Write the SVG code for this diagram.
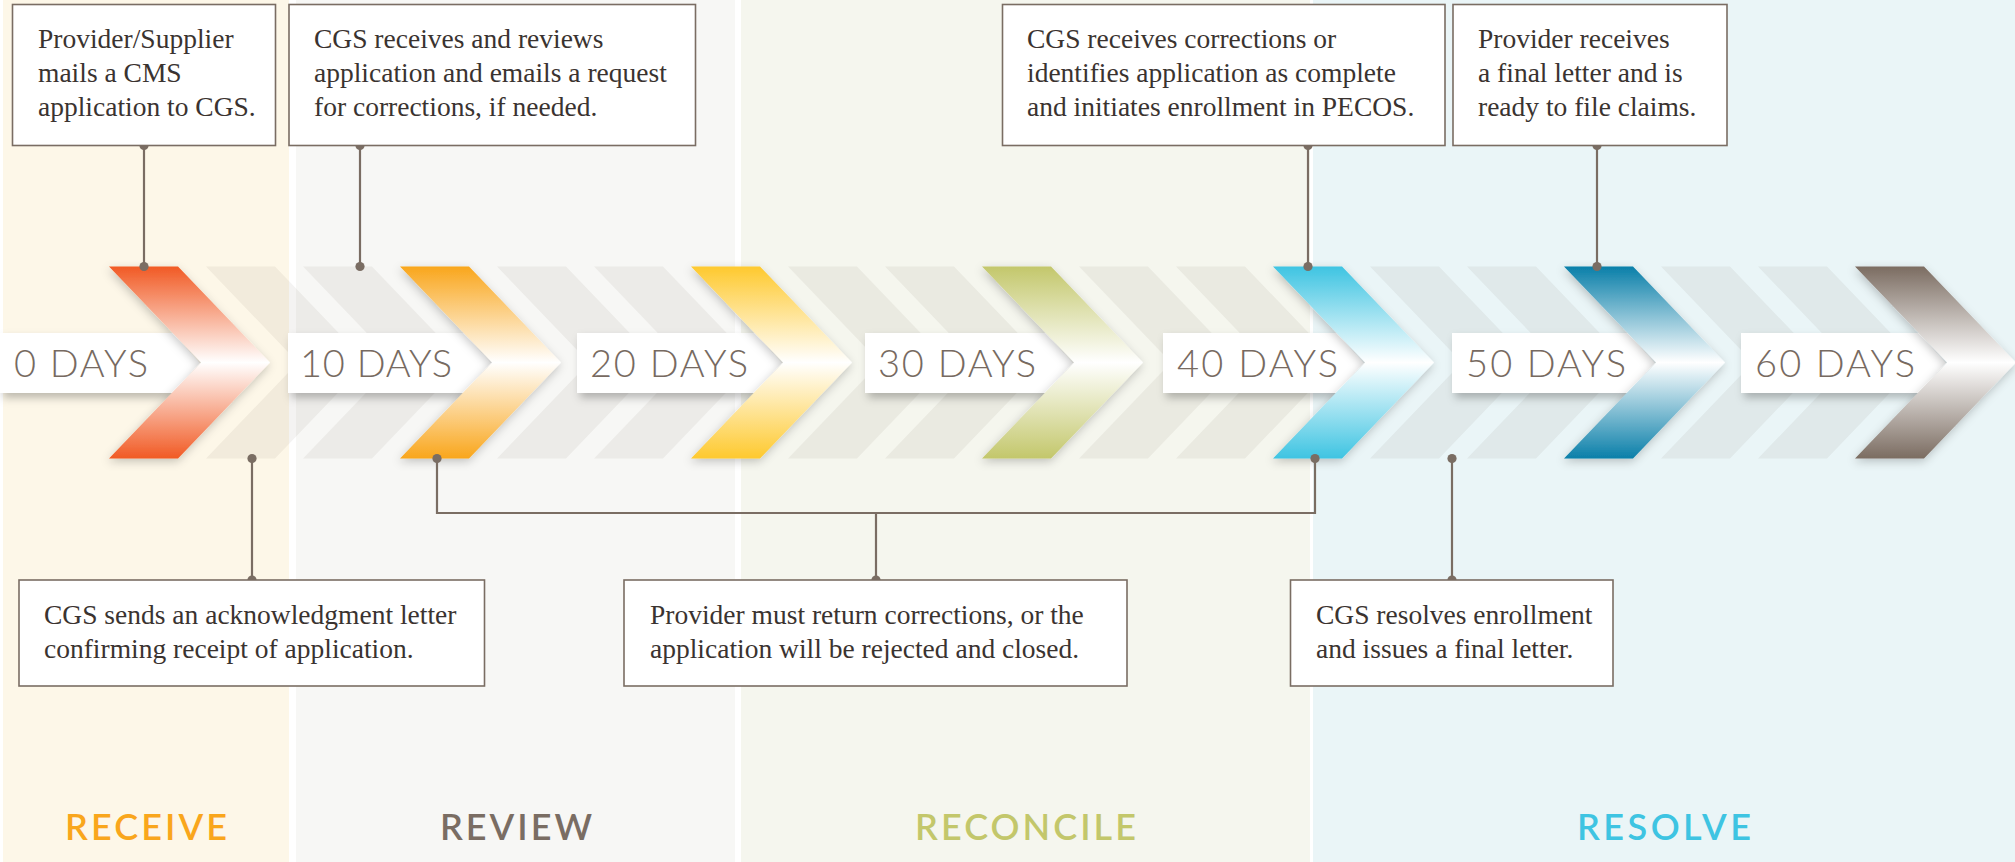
<svg xmlns="http://www.w3.org/2000/svg" xmlns:xlink="http://www.w3.org/1999/xlink" width="2015" height="862" viewBox="0 0 2015 862">
<style>
.ghost{fill:#3a2a10;fill-opacity:.055}
.lbl{fill:#fff;filter:url(#lsh)}
.days{font-family:Lato,"Open Sans","Liberation Sans",sans-serif;font-weight:300;font-size:38px;fill:#776a61}
.box{fill:#fff;stroke:#7a6d63;stroke-width:1.6}
.txt{font-family:"Liberation Serif","Times New Roman",serif;font-size:27.5px;fill:#3a3330}
.ln{stroke:#7a6d63;stroke-width:2.2;fill:none}
.dot{fill:#7a6d63}
.phase{font-family:Lato,"Open Sans","Liberation Sans",sans-serif;font-weight:600;font-size:36px;text-anchor:middle}
.chev{filter:url(#csh)}
</style>
<defs>
<path id="chev" d="M0,266.5 L69,266.5 L161,362.5 L69,458.5 L0,458.5 L92,362.5 Z"/>
<filter id="csh" x="-30%" y="-20%" width="160%" height="140%">
<feDropShadow dx="-1" dy="3" stdDeviation="5" flood-color="#000" flood-opacity="0.22"/>
</filter>
<filter id="lsh" x="-10%" y="-30%" width="120%" height="170%">
<feDropShadow dx="3" dy="5" stdDeviation="4" flood-color="#000" flood-opacity="0.25"/>
</filter>
<linearGradient id="gRed" x1="0" y1="0" x2="0" y2="1"><stop offset="0" stop-color="#f15a24"/><stop offset="0.5" stop-color="#fff"/><stop offset="1" stop-color="#f15a24"/></linearGradient>
<linearGradient id="gOrange" x1="0" y1="0" x2="0" y2="1"><stop offset="0" stop-color="#f9a61c"/><stop offset="0.5" stop-color="#fff"/><stop offset="1" stop-color="#f9a61c"/></linearGradient>
<linearGradient id="gYellow" x1="0" y1="0" x2="0" y2="1"><stop offset="0" stop-color="#fec92e"/><stop offset="0.5" stop-color="#fff"/><stop offset="1" stop-color="#fec92e"/></linearGradient>
<linearGradient id="gGreen" x1="0" y1="0" x2="0" y2="1"><stop offset="0" stop-color="#c3c76b"/><stop offset="0.5" stop-color="#fff"/><stop offset="1" stop-color="#c3c76b"/></linearGradient>
<linearGradient id="gBlue" x1="0" y1="0" x2="0" y2="1"><stop offset="0" stop-color="#3ec4e2"/><stop offset="0.5" stop-color="#fff"/><stop offset="1" stop-color="#3ec4e2"/></linearGradient>
<linearGradient id="gDark" x1="0" y1="0" x2="0" y2="1"><stop offset="0" stop-color="#0a7fa9"/><stop offset="0.5" stop-color="#fff"/><stop offset="1" stop-color="#0a7fa9"/></linearGradient>
<linearGradient id="gBrown" x1="0" y1="0" x2="0" y2="1"><stop offset="0" stop-color="#7b6c61"/><stop offset="0.5" stop-color="#fff"/><stop offset="1" stop-color="#7b6c61"/></linearGradient>
</defs>

<rect x="0" y="0" width="2015" height="862" fill="#fff"/>
<g id="bands">
<rect x="3" y="0" width="286" height="862" fill="#fdf7e8"/>
<rect x="296" y="0" width="439" height="862" fill="#f7f7f5"/>
<rect x="741" y="0" width="569" height="862" fill="#f5f6ee"/>
<rect x="1313" y="0" width="702" height="862" fill="#eaf5f7"/>
</g>

<g id="ghost-chevrons">
<use xlink:href="#chev" href="#chev" class="ghost" x="206"/>
<use xlink:href="#chev" href="#chev" class="ghost" x="303"/>
<use xlink:href="#chev" href="#chev" class="ghost" x="497"/>
<use xlink:href="#chev" href="#chev" class="ghost" x="594"/>
<use xlink:href="#chev" href="#chev" class="ghost" x="788"/>
<use xlink:href="#chev" href="#chev" class="ghost" x="885"/>
<use xlink:href="#chev" href="#chev" class="ghost" x="1079"/>
<use xlink:href="#chev" href="#chev" class="ghost" x="1176"/>
<use xlink:href="#chev" href="#chev" class="ghost" x="1370"/>
<use xlink:href="#chev" href="#chev" class="ghost" x="1467"/>
<use xlink:href="#chev" href="#chev" class="ghost" x="1661"/>
<use xlink:href="#chev" href="#chev" class="ghost" x="1758"/>
</g>

<g id="day-0"><path class="lbl" d="M0,333 H173 L200,363 L173,393 H0 Z"/><text class="days" x="14" y="377" textLength="134" lengthAdjust="spacing">0 DAYS</text></g>
<g id="day-10"><path class="lbl" d="M288,333 H464 L491,363 L464,393 H288 Z"/><text class="days" x="300" y="377" textLength="152" lengthAdjust="spacing">10 DAYS</text></g>
<g id="day-20"><path class="lbl" d="M577,333 H755 L782,363 L755,393 H577 Z"/><text class="days" x="590" y="377" textLength="158" lengthAdjust="spacing">20 DAYS</text></g>
<g id="day-30"><path class="lbl" d="M865,333 H1046 L1073,363 L1046,393 H865 Z"/><text class="days" x="878" y="377" textLength="158" lengthAdjust="spacing">30 DAYS</text></g>
<g id="day-40"><path class="lbl" d="M1163,333 H1337 L1364,363 L1337,393 H1163 Z"/><text class="days" x="1177" y="377" textLength="161" lengthAdjust="spacing">40 DAYS</text></g>
<g id="day-50"><path class="lbl" d="M1452,333 H1628 L1655,363 L1628,393 H1452 Z"/><text class="days" x="1466" y="377" textLength="160" lengthAdjust="spacing">50 DAYS</text></g>
<g id="day-60"><path class="lbl" d="M1741,333 H1919 L1946,363 L1919,393 H1741 Z"/><text class="days" x="1755" y="377" textLength="160" lengthAdjust="spacing">60 DAYS</text></g>

<g id="chevrons">
<g id="chev-receive" class="chev"><path transform="translate(109,0)" d="M0,266.5 L69,266.5 L161,362.5 L69,458.5 L0,458.5 L92,362.5 Z" fill="url(#gRed)"/></g>
<g id="chev-review" class="chev"><path transform="translate(400,0)" d="M0,266.5 L69,266.5 L161,362.5 L69,458.5 L0,458.5 L92,362.5 Z" fill="url(#gOrange)"/></g>
<g id="chev-20" class="chev"><path transform="translate(691,0)" d="M0,266.5 L69,266.5 L161,362.5 L69,458.5 L0,458.5 L92,362.5 Z" fill="url(#gYellow)"/></g>
<g id="chev-30" class="chev"><path transform="translate(982,0)" d="M0,266.5 L69,266.5 L161,362.5 L69,458.5 L0,458.5 L92,362.5 Z" fill="url(#gGreen)"/></g>
<g id="chev-40" class="chev"><path transform="translate(1273,0)" d="M0,266.5 L69,266.5 L161,362.5 L69,458.5 L0,458.5 L92,362.5 Z" fill="url(#gBlue)"/></g>
<g id="chev-50" class="chev"><path transform="translate(1564,0)" d="M0,266.5 L69,266.5 L161,362.5 L69,458.5 L0,458.5 L92,362.5 Z" fill="url(#gDark)"/></g>
<g id="chev-60" class="chev"><path transform="translate(1855,0)" d="M0,266.5 L69,266.5 L161,362.5 L69,458.5 L0,458.5 L92,362.5 Z" fill="url(#gBrown)"/></g>
</g>

<g id="connectors">
<line class="ln" x1="144" y1="145.5" x2="144" y2="266.5"/>
<line class="ln" x1="360" y1="145.5" x2="360" y2="266.5"/>
<line class="ln" x1="1308" y1="145.5" x2="1308" y2="266.5"/>
<line class="ln" x1="1597" y1="145.5" x2="1597" y2="266.5"/>
<line class="ln" x1="252" y1="458.5" x2="252" y2="580"/>
<path class="ln" d="M437,458.5 V513 H1315 V458.5 M876,513 V580"/>
<line class="ln" x1="1452" y1="458.5" x2="1452" y2="580"/>
<circle class="dot" cx="144" cy="145.5" r="4.6"/><circle class="dot" cx="144" cy="266.5" r="4.6"/>
<circle class="dot" cx="360" cy="145.5" r="4.6"/><circle class="dot" cx="360" cy="266.5" r="4.6"/>
<circle class="dot" cx="1308" cy="145.5" r="4.6"/><circle class="dot" cx="1308" cy="266.5" r="4.6"/>
<circle class="dot" cx="1597" cy="145.5" r="4.6"/><circle class="dot" cx="1597" cy="266.5" r="4.6"/>
<circle class="dot" cx="252" cy="458.5" r="4.6"/><circle class="dot" cx="252" cy="580" r="4.6"/>
<circle class="dot" cx="437" cy="458.5" r="4.6"/><circle class="dot" cx="1315" cy="458.5" r="4.6"/><circle class="dot" cx="876" cy="580" r="4.6"/>
<circle class="dot" cx="1452" cy="458.5" r="4.6"/><circle class="dot" cx="1452" cy="580" r="4.6"/>
</g>

<g id="note-mail">
<rect class="box" x="12.5" y="4.5" width="263" height="141"/>
<text class="txt" x="38" y="48">Provider/Supplier</text>
<text class="txt" x="38" y="82">mails a CMS</text>
<text class="txt" x="38" y="116">application to CGS.</text>
</g>
<g id="note-review">
<rect class="box" x="289" y="4.5" width="406.5" height="141"/>
<text class="txt" x="314" y="48">CGS receives and reviews</text>
<text class="txt" x="314" y="82">application and emails a request</text>
<text class="txt" x="314" y="116">for corrections, if needed.</text>
</g>
<g id="note-pecos">
<rect class="box" x="1002.5" y="4.5" width="442.5" height="141"/>
<text class="txt" x="1027" y="48">CGS receives corrections or</text>
<text class="txt" x="1027" y="82">identifies application as complete</text>
<text class="txt" x="1027" y="116">and initiates enrollment in PECOS.</text>
</g>
<g id="note-final">
<rect class="box" x="1453" y="4.5" width="274" height="141"/>
<text class="txt" x="1478" y="48">Provider receives</text>
<text class="txt" x="1478" y="82">a final letter and is</text>
<text class="txt" x="1478" y="116">ready to file claims.</text>
</g>
<g id="note-ack">
<rect class="box" x="19" y="580" width="465.5" height="106"/>
<text class="txt" x="44" y="624">CGS sends an acknowledgment letter</text>
<text class="txt" x="44" y="658">confirming receipt of application.</text>
</g>
<g id="note-return">
<rect class="box" x="624" y="580" width="503" height="106"/>
<text class="txt" x="650" y="624">Provider must return corrections, or the</text>
<text class="txt" x="650" y="658">application will be rejected and closed.</text>
</g>
<g id="note-resolve">
<rect class="box" x="1290.5" y="580" width="322.5" height="106"/>
<text class="txt" x="1316" y="624">CGS resolves enrollment</text>
<text class="txt" x="1316" y="658">and issues a final letter.</text>
</g>

<g id="phases">
<text class="phase" x="146" y="840" fill="#f9a61c" textLength="162" lengthAdjust="spacing">RECEIVE</text>
<text class="phase" x="516" y="840" fill="#7a6d63" textLength="152" lengthAdjust="spacing">REVIEW</text>
<text class="phase" x="1025.5" y="840" fill="#c3c76b" textLength="221" lengthAdjust="spacing">RECONCILE</text>
<text class="phase" x="1664" y="840" fill="#3ec4e2" textLength="174" lengthAdjust="spacing">RESOLVE</text>
</g>
</svg>
